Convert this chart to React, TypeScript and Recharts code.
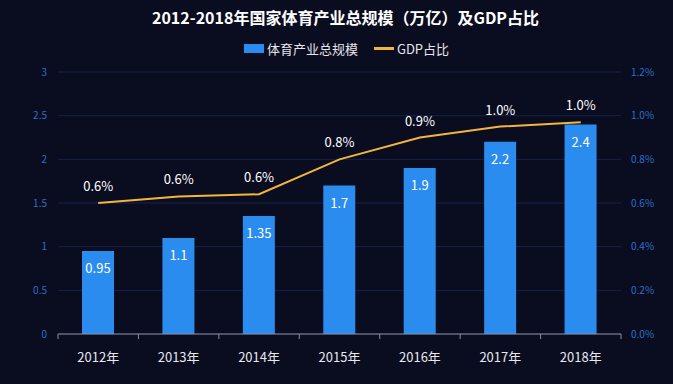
import React from 'react';
import { ComposedChart, Bar, Line, XAxis, YAxis, CartesianGrid, LabelList } from 'recharts';

const categories = ['2012年', '2013年', '2014年', '2015年', '2016年', '2017年', '2018年'];
const sportsScale = [0.95, 1.1, 1.35, 1.7, 1.9, 2.2, 2.4];
const gdpShare = [0.6, 0.63, 0.64, 0.8, 0.9, 0.95, 0.97];
const gdpLabels = ['0.6%', '0.6%', '0.6%', '0.8%', '0.9%', '1.0%', '1.0%'];
const leftTicks = [0, 0.5, 1, 1.5, 2, 2.5, 3];
const rightTicks = [0, 0.2, 0.4, 0.6, 0.8, 1.0, 1.2];

const data = categories.map((c, i) => ({
  year: c,
  scale: sportsScale[i],
  gdp: gdpShare[i],
  gdpLabel: gdpLabels[i],
}));

const FONT = '"Noto Sans CJK SC", "Noto Sans", sans-serif';
const BAR = '#2b8cef';
const LINE = '#f3b63c';

const XTick = (props: any) => {
  const { x, y, payload, index } = props;
  const off = payload.offset || 0;
  return (
    <g>
      <line x1={x - off} x2={x - off} y1={y} y2={y + 5} stroke="#8a8f9c" />
      {index === categories.length - 1 && (
        <line x1={x + off} x2={x + off} y1={y} y2={y + 5} stroke="#8a8f9c" />
      )}
      <text x={x} y={y + 28} textAnchor="middle" fill="#e8e8ee" fontSize={13} fontFamily={FONT}>
        {payload.value}
      </text>
    </g>
  );
};

export default function App() {
  return (
    <div style={{ position: 'absolute', left: 0, top: 0, width: 673, height: 384, background: '#0a0c20', fontFamily: FONT }}>
      <div style={{ position: 'absolute', top: 5, left: 9, width: 673, textAlign: 'center', color: '#ffffff', fontSize: 16, fontWeight: 700 }}>
        2012-2018年国家体育产业总规模（万亿）及GDP占比
      </div>
      <div style={{ position: 'absolute', top: 39, left: 10, width: 673, display: 'flex', justifyContent: 'center', alignItems: 'center', color: '#e6e6ee', fontSize: 13 }}>
        <span style={{ display: 'inline-block', width: 20, height: 9, background: BAR, marginRight: 3 }} />
        <span>体育产业总规模</span>
        <span style={{ display: 'inline-block', width: 20, height: 3, background: LINE, marginLeft: 16, marginRight: 3 }} />
        <span>GDP占比</span>
      </div>
      <ComposedChart
        width={673}
        height={384}
        data={data}
        margin={{ top: 72, right: 12, left: 18, bottom: 0 }}
        style={{ position: 'absolute', left: 0, top: 0 }}
      >
        <CartesianGrid vertical={false} stroke="#17224a" yAxisId="left" />
        <XAxis
          dataKey="year"
          height={50}
          tickLine={false}
          tickSize={0}
          tickMargin={0}
          axisLine={{ stroke: '#8a8f9c' }}
          tick={<XTick />}
          interval={0}
        />
        <YAxis
          yAxisId="left"
          width={40}
          domain={[0, 3]}
          ticks={leftTicks}
          axisLine={false}
          tickLine={false}
          tickSize={0}
          tickMargin={11}
          tick={{ fill: '#2f6fc8', fontSize: 10, fontFamily: FONT }}
        />
        <YAxis
          yAxisId="right"
          orientation="right"
          width={40}
          domain={[0, 1.2]}
          ticks={rightTicks}
          axisLine={false}
          tickLine={false}
          tickSize={0}
          tickMargin={10}
          tickFormatter={(v: number) => v.toFixed(1) + '%'}
          tick={{ fill: '#2f6fc8', fontSize: 10, fontFamily: FONT }}
        />
        <Bar yAxisId="left" dataKey="scale" fill={BAR} barSize={32} isAnimationActive={false}>
          <LabelList dataKey="scale" position="insideTop" offset={13} fill="#ffffff" fontSize={13} fontFamily={FONT} />
        </Bar>
        <Line
          yAxisId="right"
          dataKey="gdp"
          stroke={LINE}
          strokeWidth={2}
          dot={false}
          type="linear"
          isAnimationActive={false}
        >
          <LabelList dataKey="gdpLabel" position="top" offset={12} fill="#ffffff" fontSize={13} fontFamily={FONT} />
        </Line>
      </ComposedChart>
    </div>
  );
}
